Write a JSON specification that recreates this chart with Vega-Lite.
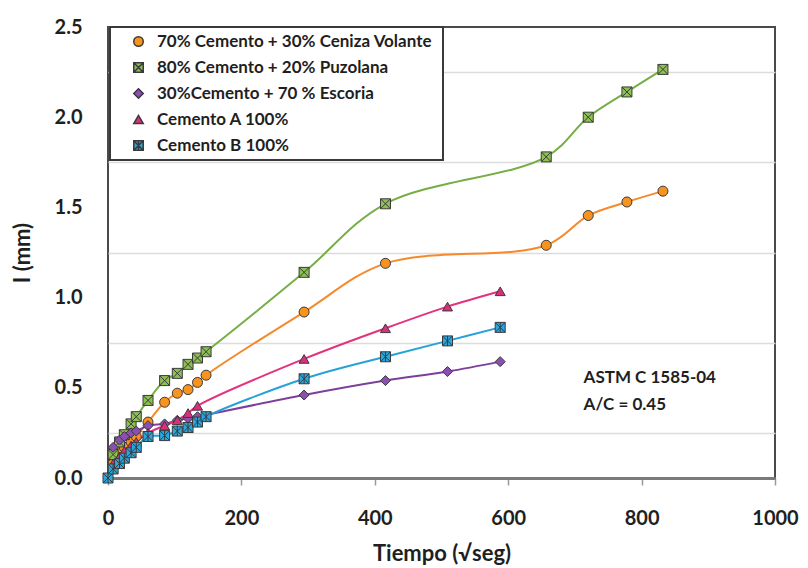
{
  "$schema": "https://vega.github.io/schema/vega-lite/v6.json",
  "width": 667,
  "height": 451,
  "autosize": {"type": "none"},
  "padding": {"left": 108, "top": 27, "right": 33, "bottom": 90},
  "background": "white",
  "config": {
    "view": {"stroke": "#4a4a4a", "strokeWidth": 2},
    "font": "Lato",
    "axis": {
      "labelFont": "Lato", "labelFontWeight": "bold", "labelFontSize": 20, "labelColor": "#1f1f1f",
      "titleFont": "Lato", "titleFontWeight": "bold", "titleFontSize": 22, "titleColor": "#1f1f1f"
    },
    "legend": {"strokeWidth": 2}
  },
  "data": {
    "values": [
      {"s": "70% Cemento + 30% Ceniza  Volante", "t": 7.7, "l": 0.08},
      {"s": "70% Cemento + 30% Ceniza  Volante", "t": 17.3, "l": 0.14},
      {"s": "70% Cemento + 30% Ceniza  Volante", "t": 24.5, "l": 0.17},
      {"s": "70% Cemento + 30% Ceniza  Volante", "t": 34.6, "l": 0.2},
      {"s": "70% Cemento + 30% Ceniza  Volante", "t": 42.4, "l": 0.23},
      {"s": "70% Cemento + 30% Ceniza  Volante", "t": 60, "l": 0.31},
      {"s": "70% Cemento + 30% Ceniza  Volante", "t": 84.9, "l": 0.42},
      {"s": "70% Cemento + 30% Ceniza  Volante", "t": 103.9, "l": 0.47},
      {"s": "70% Cemento + 30% Ceniza  Volante", "t": 120, "l": 0.49},
      {"s": "70% Cemento + 30% Ceniza  Volante", "t": 134.2, "l": 0.53},
      {"s": "70% Cemento + 30% Ceniza  Volante", "t": 147, "l": 0.57},
      {"s": "70% Cemento + 30% Ceniza  Volante", "t": 294, "l": 0.92},
      {"s": "70% Cemento + 30% Ceniza  Volante", "t": 416, "l": 1.19},
      {"s": "70% Cemento + 30% Ceniza  Volante", "t": 657, "l": 1.29},
      {"s": "70% Cemento + 30% Ceniza  Volante", "t": 720, "l": 1.455},
      {"s": "70% Cemento + 30% Ceniza  Volante", "t": 778, "l": 1.53},
      {"s": "70% Cemento + 30% Ceniza  Volante", "t": 832, "l": 1.59},
      {"s": "80% Cemento + 20% Puzolana", "t": 7.7, "l": 0.13},
      {"s": "80% Cemento + 20% Puzolana", "t": 17.3, "l": 0.2},
      {"s": "80% Cemento + 20% Puzolana", "t": 24.5, "l": 0.24},
      {"s": "80% Cemento + 20% Puzolana", "t": 34.6, "l": 0.3},
      {"s": "80% Cemento + 20% Puzolana", "t": 42.4, "l": 0.34},
      {"s": "80% Cemento + 20% Puzolana", "t": 60, "l": 0.43},
      {"s": "80% Cemento + 20% Puzolana", "t": 84.9, "l": 0.54},
      {"s": "80% Cemento + 20% Puzolana", "t": 103.9, "l": 0.58},
      {"s": "80% Cemento + 20% Puzolana", "t": 120, "l": 0.63},
      {"s": "80% Cemento + 20% Puzolana", "t": 134.2, "l": 0.665},
      {"s": "80% Cemento + 20% Puzolana", "t": 147, "l": 0.7},
      {"s": "80% Cemento + 20% Puzolana", "t": 294, "l": 1.14},
      {"s": "80% Cemento + 20% Puzolana", "t": 416, "l": 1.52},
      {"s": "80% Cemento + 20% Puzolana", "t": 657, "l": 1.78},
      {"s": "80% Cemento + 20% Puzolana", "t": 720, "l": 2.0},
      {"s": "80% Cemento + 20% Puzolana", "t": 778, "l": 2.14},
      {"s": "80% Cemento + 20% Puzolana", "t": 832, "l": 2.265},
      {"s": "30%Cemento + 70 % Escoria", "t": 7.7, "l": 0.17},
      {"s": "30%Cemento + 70 % Escoria", "t": 17.3, "l": 0.21},
      {"s": "30%Cemento + 70 % Escoria", "t": 24.5, "l": 0.23},
      {"s": "30%Cemento + 70 % Escoria", "t": 34.6, "l": 0.25},
      {"s": "30%Cemento + 70 % Escoria", "t": 42.4, "l": 0.26},
      {"s": "30%Cemento + 70 % Escoria", "t": 60, "l": 0.29},
      {"s": "30%Cemento + 70 % Escoria", "t": 84.9, "l": 0.3},
      {"s": "30%Cemento + 70 % Escoria", "t": 103.9, "l": 0.32},
      {"s": "30%Cemento + 70 % Escoria", "t": 120, "l": 0.33},
      {"s": "30%Cemento + 70 % Escoria", "t": 134.2, "l": 0.34},
      {"s": "30%Cemento + 70 % Escoria", "t": 294, "l": 0.46},
      {"s": "30%Cemento + 70 % Escoria", "t": 416, "l": 0.54},
      {"s": "30%Cemento + 70 % Escoria", "t": 509, "l": 0.59},
      {"s": "30%Cemento + 70 % Escoria", "t": 588, "l": 0.645},
      {"s": "Cemento A 100%", "t": 7.7, "l": 0.08},
      {"s": "Cemento A 100%", "t": 17.3, "l": 0.12},
      {"s": "Cemento A 100%", "t": 24.5, "l": 0.15},
      {"s": "Cemento A 100%", "t": 34.6, "l": 0.18},
      {"s": "Cemento A 100%", "t": 42.4, "l": 0.2},
      {"s": "Cemento A 100%", "t": 60, "l": 0.25},
      {"s": "Cemento A 100%", "t": 84.9, "l": 0.29},
      {"s": "Cemento A 100%", "t": 103.9, "l": 0.32},
      {"s": "Cemento A 100%", "t": 120, "l": 0.36},
      {"s": "Cemento A 100%", "t": 134.2, "l": 0.4},
      {"s": "Cemento A 100%", "t": 294, "l": 0.66},
      {"s": "Cemento A 100%", "t": 416, "l": 0.83},
      {"s": "Cemento A 100%", "t": 509, "l": 0.95},
      {"s": "Cemento A 100%", "t": 588, "l": 1.035},
      {"s": "Cemento B 100%", "t": 0, "l": 0},
      {"s": "Cemento B 100%", "t": 7.7, "l": 0.05},
      {"s": "Cemento B 100%", "t": 17.3, "l": 0.08},
      {"s": "Cemento B 100%", "t": 24.5, "l": 0.11},
      {"s": "Cemento B 100%", "t": 34.6, "l": 0.14},
      {"s": "Cemento B 100%", "t": 42.4, "l": 0.17},
      {"s": "Cemento B 100%", "t": 60, "l": 0.23},
      {"s": "Cemento B 100%", "t": 84.9, "l": 0.235},
      {"s": "Cemento B 100%", "t": 103.9, "l": 0.26},
      {"s": "Cemento B 100%", "t": 120, "l": 0.28},
      {"s": "Cemento B 100%", "t": 134.2, "l": 0.31},
      {"s": "Cemento B 100%", "t": 147, "l": 0.34},
      {"s": "Cemento B 100%", "t": 294, "l": 0.55},
      {"s": "Cemento B 100%", "t": 416, "l": 0.672},
      {"s": "Cemento B 100%", "t": 509, "l": 0.76},
      {"s": "Cemento B 100%", "t": 588, "l": 0.835}
    ]
  },
  "resolve": {"axis": {"y": "independent"}},
  "layer": [
    {
      "mark": {"type": "line", "interpolate": "catmull-rom", "strokeWidth": 2},
      "encoding": {
        "x": {"field": "t", "type": "quantitative", "scale": {"domain": [0, 1000], "nice": false},
              "axis": {"values": [0, 200, 400, 600, 800, 1000], "format": "d", "labelFlush": false, "grid": false, "tickSize": 7, "tickColor": "#9a9a9a", "tickWidth": 1.5,
                       "domainColor": "#7a7a7a", "domainWidth": 3, "labelPadding": 23, "title": "Tiempo (√seg)", "titlePadding": 15}},
        "y": {"field": "l", "type": "quantitative", "scale": {"domain": [0, 2.5], "nice": false},
              "axis": {"orient": "left", "values": [0.25, 0.75, 1.25, 1.75, 2.25], "grid": true, "gridColor": "#dcdcdc", "gridWidth": 1.5,
                       "labels": false, "ticks": false, "domain": false, "title": null}},
        "stroke": {"field": "s", "type": "nominal", "legend": null,
                   "scale": {"range": ["#7D3F9B", "#F58A2C", "#76AE45", "#E2337F", "#25A3D8"]}},
        "order": {"field": "t", "type": "quantitative"}
      }
    },
    {
      "mark": {"type": "point", "filled": true, "size": 100, "stroke": "#3a3a3a", "strokeWidth": 1, "opacity": 1},
      "encoding": {
        "x": {"field": "t", "type": "quantitative"},
        "y": {"field": "l", "type": "quantitative",
              "axis": {"orient": "left", "values": [0, 0.5, 1, 1.5, 2, 2.5], "format": ".1f", "grid": false, "ticks": false,
                       "domain": false, "labelPadding": 26, "title": "I (mm)", "titlePadding": 20}},
        "fill": {"field": "s", "type": "nominal",
                 "legend": {"title": null, "orient": "none", "legendX": 2, "legendY": 0, "fillColor": "white", "strokeColor": "#3a3a3a",
                            "padding": 6, "rowPadding": 8, "symbolOffset": 14, "labelOffset": 10,
                            "labelFont": "Lato", "labelFontWeight": "bold", "labelFontSize": 17, "labelColor": "#1f1f1f", "labelLimit": 400, "symbolSize": 90},
                 "scale": {"domain": ["70% Cemento + 30% Ceniza  Volante", "80% Cemento + 20% Puzolana", "30%Cemento + 70 % Escoria", "Cemento A 100%", "Cemento B 100%"],
                           "range": ["#F7931E", "#8CC152", "#8A4FB0", "#D9307E", "#2AA7DE"]}},
        "shape": {"field": "s", "type": "nominal",
                  "legend": {"title": null, "orient": "none", "legendX": 2, "legendY": 0, "fillColor": "white", "strokeColor": "#3a3a3a",
                            "padding": 6, "rowPadding": 8, "symbolOffset": 14, "labelOffset": 10,
                            "labelFont": "Lato", "labelFontWeight": "bold", "labelFontSize": 17, "labelColor": "#1f1f1f", "labelLimit": 400, "symbolSize": 90},
                  "scale": {"domain": ["70% Cemento + 30% Ceniza  Volante", "80% Cemento + 20% Puzolana", "30%Cemento + 70 % Escoria", "Cemento A 100%", "Cemento B 100%"],
                            "range": ["circle", "M-1,-1L1,-1L1,1L-1,1Z M-1,-1L1,1 M1,-1L-1,1", "diamond", "triangle-up", "M-1,-1L1,-1L1,1L-1,1Z M-1,-1L1,1 M1,-1L-1,1 M0,-1L0,1"]}}
      }
    },
    {
      "data": {"values": [{}]},
      "mark": {"type": "text", "align": "left", "baseline": "middle", "font": "Lato", "fontWeight": "bold", "fontSize": 17, "color": "#1f1f1f", "lineHeight": 27},
      "encoding": {
        "x": {"datum": 713, "type": "quantitative"},
        "y": {"datum": 0.555, "type": "quantitative", "axis": null},
        "text": {"value": ["ASTM C 1585-04", "A/C = 0.45"]}
      }
    }
  ]
}
